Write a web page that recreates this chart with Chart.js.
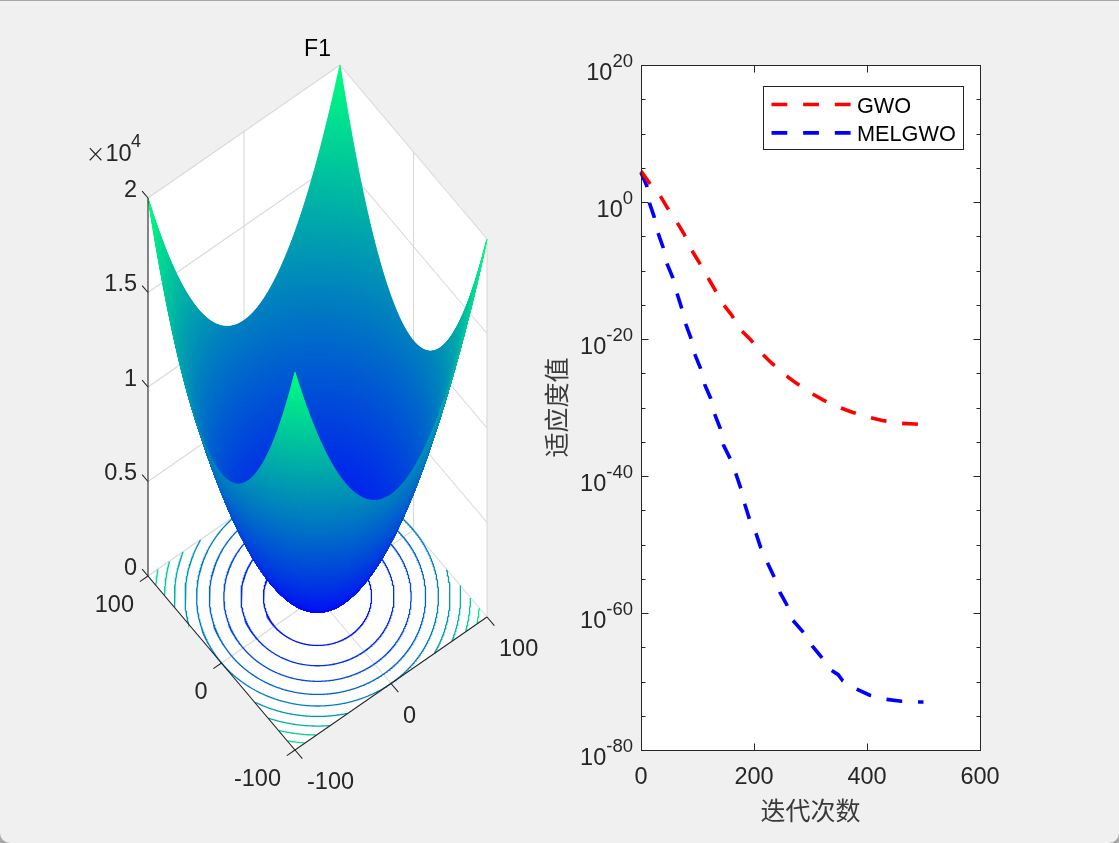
<!DOCTYPE html>
<html><head><meta charset="utf-8">
<script src="https://cdn.jsdelivr.net/npm/chart.js@4"></script>
<style>
html,body{margin:0;padding:0;width:1119px;height:843px;overflow:hidden;background:#a8a8a8}
#win{position:absolute;left:0;top:1px;width:1119px;height:842px;background:#f0f0f0;border-radius:0 0 10px 10px;overflow:hidden}
canvas{position:absolute;top:-1px}
#c3d{left:0}
#c2d{left:540px}
</style></head><body>
<div id="win"><canvas id="c3d" width="540" height="843"></canvas><canvas id="c2d" width="579" height="843"></canvas></div>
<script>
// ---------- convergence curves ----------
const iterGWO = [0,15,33,47,63,76,88,102,116,130,144,161,175,194,212,231,253,274,299,322,348,374,402,427,457,484,500];
const fitnessGWO = [3.2e4,5.9e2,1.1e1,1.3e-1,1.4e-3,2.3e-5,1.5e-7,2.1e-9,2e-11,2.1e-13,1.7e-15,2.7e-17,2.8e-19,7.9e-21,1.1e-22,3.2e-24,7.9e-26,4e-27,1.6e-28,1.3e-29,1.3e-30,2e-31,4e-32,1.3e-32,5e-33,4e-33,3.2e-33];
const iterMELGWO = [0,10,15,23,30,39,46,56,64,72,79,88,95,105,113,123,130,140,146,158,168,177,184,192,204,212,224,236,246,258,269,288,303,321,336,349,357,381,405,434,461,489,500];
const fitnessMELGWO = [2e4,2.5e2,7e-1,8e-3,3.2e-5,2.5e-7,1e-9,1e-11,4e-14,3.2e-16,1.6e-18,1.6e-20,6.3e-23,6.3e-25,2e-27,2.5e-29,1.3e-31,1e-33,3.2e-36,3.2e-38,2e-40,1.3e-42,6.3e-45,5e-47,3.2e-49,3.2e-51,2e-53,1.6e-55,1e-57,1.6e-59,8e-62,1.3e-63,1.6e-65,2.5e-67,5e-69,1e-69,1.3e-70,8e-72,1e-72,2.5e-73,1.3e-73,1e-73,1e-73];
const xTicks2D = [0,200,400,600];
const yMajorExponents = [20,0,-20,-40,-60,-80];
const yMinorExponents = [15,10,5,-5,-10,-15,-25,-30,-35,-45,-50,-55,-65,-70,-75];

// ---------- 3-D panel: tick values and contour levels ----------
const axisTicks3D = [-100,0,100];
const zTicks3D = [0,5000,10000,15000,20000];
const zTickLabels = ['0','0.5','1','1.5','2'];
const contourLevels = [2000,4000,6000,8000,10000,12000,14000,16000,18000];
// The left panel plots benchmark F1, the sphere function: that definition (not a fit) gives its heights.
const F1 = (x,y) => x*x + y*y;
const gridStep = 0.5;

const INK = '#262626', GRID = '#d9d9d9';
const SANS = '"Liberation Sans", Arial, sans-serif';
const CJK = '"Noto Sans CJK SC", sans-serif';

// View of the MATLAB axes: parallel projection from data space to view-plane units
function project(x,y,z){
  return {x: 317.5 + 0.96*x - 0.735*y, y: 596.5 - 0.665*x - 0.87*y - 0.0189*z};
}
const winter = t => `rgb(0,${Math.round(255*t)},${Math.round(255-127*t)})`;
const lineDs = (label,data,color,width,order,extra) => Object.assign(
  {label,data,borderColor:color,borderWidth:width,pointRadius:0,showLine:true,fill:false,order,tension:0}, extra||{});

const datasets3D = [];
const R=100, Z=20000;
// walls
datasets3D.push(lineDs('walls',[[-R,R,Z],[R,R,Z],[R,-R,Z],[R,-R,0],[-R,-R,0],[-R,R,0],[-R,R,Z]].map(p=>project(...p)),'rgba(0,0,0,0)',0,100,
  {fill:'shape',backgroundColor:'#fff'}));
// light grid on walls and floor
const gap={x:NaN,y:NaN};
const gridLines = [];
zTicks3D.forEach(z=>{ gridLines.push(project(-R,R,z),project(R,R,z),project(R,-R,z),gap); });
gridLines.push(project(0,R,0),project(0,R,Z),gap,project(R,0,0),project(R,0,Z),gap);
gridLines.push(project(R,-R,0),project(R,-R,Z),gap,project(R,R,0),project(R,R,Z),gap);
gridLines.push(project(-R,0,0),project(R,0,0),gap,project(0,-R,0),project(0,R,0));
datasets3D.push(lineDs('grid',gridLines,GRID,1.1,90));
// contours on the floor, clipped to the square domain
contourLevels.forEach(lv=>{
  const r=Math.sqrt(lv), pts=[];
  for(let a=0;a<=720;a++){
    const t=a*Math.PI/360, x=r*Math.cos(t), y=r*Math.sin(t);
    pts.push(Math.abs(x)<=R&&Math.abs(y)<=R ? project(x,y,0) : gap);
  }
  datasets3D.push(lineDs('contour '+lv,pts,winter(lv/Z),1.3,80));
});
// surface grid: one invisible point per node, painted as cells by the plugin below
const axisNodes=[]; for(let v=-R;v<=R;v+=gridStep) axisNodes.push(v);
const surfacePts=[];
axisNodes.forEach(y=>axisNodes.forEach(x=>surfacePts.push(project(x,y,F1(x,y)))));
datasets3D.push({label:'F1',data:surfacePts,pointRadius:0,showLine:false,order:50,isSurface:true});
// dark axes
const axisLines=[project(-R,R,Z),project(-R,R,0),project(-R,-R,0),project(R,-R,0)];
datasets3D.push(lineDs('axes',axisLines,INK,1.1,40));
const tickPts=[];
axisTicks3D.forEach(v=>{ tickPts.push(project(-R,v,0),project(-R-8.5,v,0),gap); tickPts.push(project(v,-R,0),project(v,-R-10,0),gap); });
zTicks3D.forEach(z=>{ tickPts.push(project(-R,R,z),project(-R,R+8,z),gap); });
datasets3D.push(lineDs('ticks',tickPts,INK,1.1,40));

const surfacePlugin = {
  id:'surfaceCells',
  beforeDatasetDraw(chart,args){
    const ds=chart.data.datasets[args.index];
    if(!ds.isSurface) return;
    const ctx=chart.ctx, el=args.meta.data, n=axisNodes.length, cells=[];
    for(let j=0;j<n-1;j++) for(let i=0;i<n-1;i++){
      const xm=(axisNodes[i]+axisNodes[i+1])/2, ym=(axisNodes[j]+axisNodes[j+1])/2;
      cells.push({i,j,d:0.665*xm+0.87*ym,c:F1(xm,ym)/Z});
    }
    cells.sort((a,b)=>b.d-a.d);
    ctx.save(); ctx.lineWidth=0.7; ctx.lineJoin='round';
    for(const c of cells){
      const k=c.j*n+c.i, col=winter(c.c);
      ctx.fillStyle=col; ctx.strokeStyle=col;
      ctx.beginPath(); ctx.moveTo(el[k].x,el[k].y);
      ctx.lineTo(el[k+1].x,el[k+1].y); ctx.lineTo(el[k+n+1].x,el[k+n+1].y); ctx.lineTo(el[k+n].x,el[k+n].y);
      ctx.closePath(); ctx.fill(); ctx.stroke();
    }
    ctx.restore();
  }
};
const TICKFONT='23.5px '+SANS;
const labels3DPlugin = {
  id:'labels3D',
  afterDraw(chart){
    const ctx=chart.ctx, sx=chart.scales.x, sy=chart.scales.y;
    const at=(x,y,z)=>{const p=project(x,y,z);return {x:sx.getPixelForValue(p.x),y:sy.getPixelForValue(p.y)};};
    ctx.save(); ctx.fillStyle=INK; ctx.font=TICKFONT; ctx.textBaseline='middle';
    ctx.textAlign='right';
    zTicks3D.forEach((z,i)=>{const p=at(-R,R,z);ctx.fillText(zTickLabels[i],p.x-11,p.y-7.5);});
    axisTicks3D.forEach(v=>{const p=at(-R,v,0);ctx.fillText(String(v),p.x-14,p.y+30);});
    ctx.textAlign='left';
    axisTicks3D.forEach(v=>{const p=at(v,-R,0);ctx.fillText(String(v),p.x+12,p.y+33);});
    ctx.textBaseline='alphabetic';
    ctx.fillText('10',105.5,161);
    ctx.font='18px '+SANS; ctx.fillText('4',131,147);
    ctx.font='200 24px "DejaVu Sans"'; ctx.fillText('×',85.5,162);
    ctx.fillStyle='#000'; ctx.font='23px '+SANS; ctx.textAlign='center'; ctx.textBaseline='middle';
    ctx.fillText('F1',317.5,50);
    ctx.restore();
  }
};
new Chart(document.getElementById('c3d'),{
  type:'scatter',
  data:{datasets:datasets3D},
  options:{responsive:false,animation:false,devicePixelRatio:1,events:[],
    layout:{padding:0},
    plugins:{legend:{display:false},tooltip:{enabled:false},title:{display:false}},
    scales:{x:{type:'linear',min:0,max:540,display:false},y:{type:'linear',min:0,max:843,reverse:true,display:false}},
    elements:{line:{borderCapStyle:'butt'}}
  },
  plugins:[surfacePlugin,labels3DPlugin]
});

// ---------- right panel ----------
const zip=(xs,ys)=>xs.map((x,i)=>({x,y:ys[i]}));
const series2D=[
  {label:'GWO',data:zip(iterGWO,fitnessGWO),borderColor:'#ff0000',borderWidth:3.6,borderDash:[15.8,15.85],pointRadius:0,tension:0,showLine:true,fill:false,clip:false},
  {label:'MELGWO',data:zip(iterMELGWO,fitnessMELGWO),borderColor:'#0000ff',borderWidth:3.6,borderDash:[15.8,15.85],pointRadius:0,tension:0,showLine:true,fill:false,clip:false}
];
const framePlugin={
  id:'frame2D',
  beforeDraw(chart){
    const a=chart.chartArea,ctx=chart.ctx;
    ctx.save();ctx.fillStyle='#fff';ctx.fillRect(a.left,a.top,a.right-a.left,a.bottom-a.top);ctx.restore();
  },
  afterDraw(chart){
    const a=chart.chartArea,ctx=chart.ctx,sx=chart.scales.x,sy=chart.scales.y;
    const L=Math.round(a.left)+0.5,R2=Math.round(a.right)+0.5,T=Math.round(a.top)+0.5,B=Math.round(a.bottom)+0.5;
    ctx.save();ctx.strokeStyle=INK;ctx.lineWidth=1;
    ctx.strokeRect(L,T,R2-L,B-T);
    ctx.beginPath();
    xTicks2D.forEach(v=>{const p=Math.round(sx.getPixelForValue(v))+0.5;ctx.moveTo(p,B);ctx.lineTo(p,B-7);ctx.moveTo(p,T);ctx.lineTo(p,T+7);});
    yMajorExponents.forEach(e=>{const p=Math.round(sy.getPixelForValue(Number('1e'+e)))+0.5;ctx.moveTo(L,p);ctx.lineTo(L+7,p);ctx.moveTo(R2,p);ctx.lineTo(R2-7,p);});
    yMinorExponents.forEach(e=>{const p=Math.round(sy.getPixelForValue(Number('1e'+e)))+0.5;ctx.moveTo(L,p);ctx.lineTo(L+4,p);ctx.moveTo(R2,p);ctx.lineTo(R2-4,p);});
    ctx.stroke();
    // y tick labels: base and superscript exponent
    ctx.fillStyle=INK;ctx.textBaseline='alphabetic';
    yMajorExponents.forEach(e=>{
      const p=sy.getPixelForValue(Number('1e'+e)),right=a.left-8;
      ctx.textAlign='right';ctx.font='18.5px '+SANS;ctx.fillText(String(e),right,p+2);
      const w=ctx.measureText(String(e)).width;
      ctx.font=TICKFONT;ctx.fillText('10',right-w,p+14.5);
    });
    // legend
    const lx=223.5,ly=86.5,lw=200,lh=63;
    ctx.fillStyle='#fff';ctx.fillRect(lx,ly,lw,lh);ctx.strokeStyle=INK;ctx.strokeRect(lx,ly,lw,lh);
    series2D.forEach((s,i)=>{
      const y=ly+18+i*28.4;
      ctx.save();ctx.strokeStyle=s.borderColor;ctx.lineWidth=s.borderWidth;ctx.setLineDash(s.borderDash);
      ctx.beginPath();ctx.moveTo(lx+8,y);ctx.lineTo(lx+88,y);ctx.stroke();ctx.restore();
      ctx.fillStyle='#000';ctx.font='21.7px '+SANS;ctx.textAlign='left';ctx.textBaseline='middle';
      ctx.fillText(s.label,lx+93.5,y+2.5);
    });
    ctx.restore();
  }
};
new Chart(document.getElementById('c2d'),{
  type:'scatter',
  data:{datasets:series2D},
  options:{responsive:false,animation:false,devicePixelRatio:1,events:[],
    layout:{padding:{top:65,right:139,bottom:0,left:0}},
    plugins:{legend:{display:false},tooltip:{enabled:false}},
    scales:{
      x:{type:'linear',min:0,max:600,
        afterFit(s){s.height=93;},
        grid:{display:false,drawTicks:false},border:{display:false},
        ticks:{stepSize:200,padding:13,color:INK,font:{family:SANS,size:23.5},maxRotation:0},
        title:{display:true,text:'迭代次数',color:'#3a3a3a',font:{family:CJK,size:25},padding:{top:0,bottom:18}}
      },
      y:{type:'logarithmic',min:1e-80,max:1e20,
        afterFit(s){s.width=101;},
        afterBuildTicks(s){s.ticks=yMajorExponents.concat(yMinorExponents).map(e=>({value:Number('1e'+e)}));},
        grid:{display:false,drawTicks:false},border:{display:false},
        ticks:{display:false},
        title:{display:true,text:'适应度值',color:'#3a3a3a',font:{family:CJK,size:25},padding:{top:1,bottom:0}}
      }
    }
  },
  plugins:[framePlugin]
});
</script>
</body></html>
